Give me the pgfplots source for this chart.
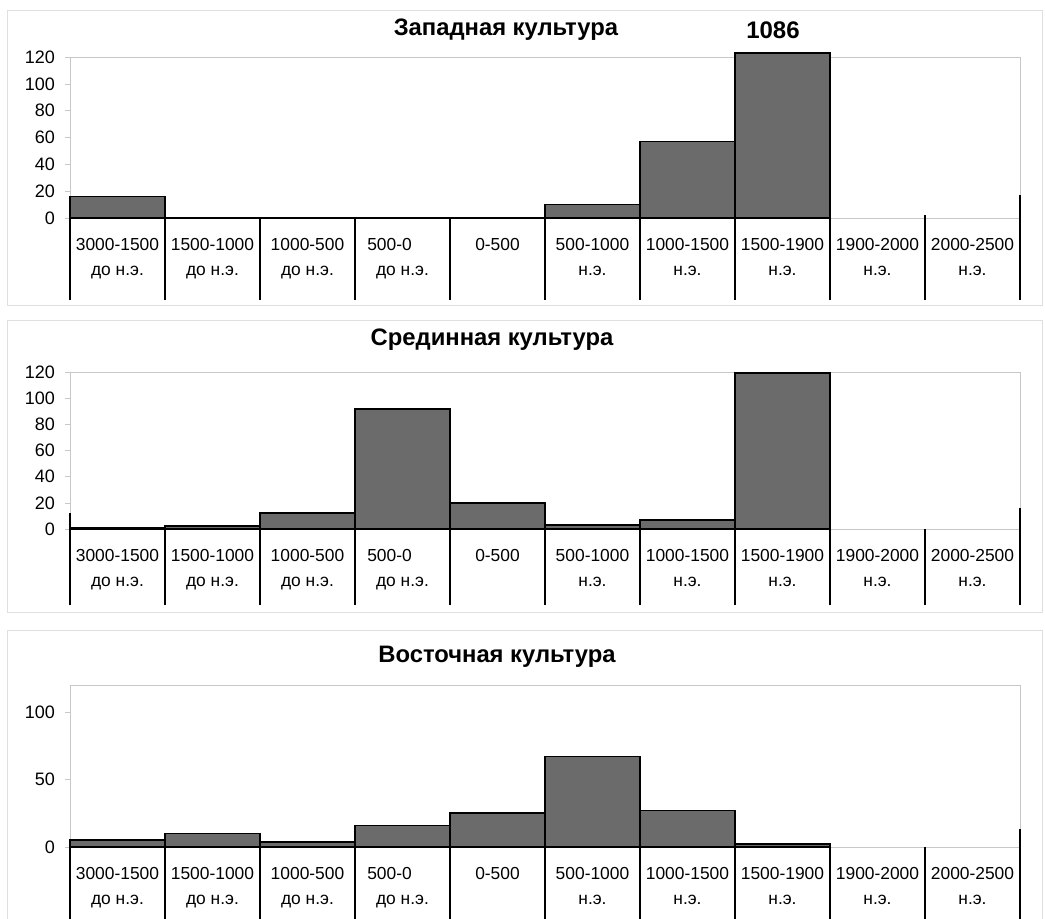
\documentclass[border=0pt]{standalone}
\usepackage{fontspec}
\setmainfont{Liberation Sans}
\usepackage{pgfplots}
\pgfplotsset{compat=1.18}

\definecolor{barfill}{gray}{0.42}
\definecolor{faint}{gray}{0.78}

\pgfplotsset{
  panel/.style={
    scale only axis, width=475pt,
    xmin=0, xmax=10, ymin=0, ymax=120,
    clip=false,
    axis line style={faint},
    xtick={0.5,1.5,...,9.5},
    xticklabels={{3000-1500\\до н.э.},{1500-1000\\до н.э.},{1000-500\\до н.э.},{500-0\hspace*{13pt}\\до н.э.},{0-500\\\phantom{н}},{500-1000\\н.э.},{1000-1500\\н.э.},{1500-1900\\н.э.},{1900-2000\\н.э.},{2000-2500\\н.э.}},
    x tick style={draw=none},
    y tick style={faint},
    xtick pos=lower, ytick pos=left,
    tick align=outside, major tick length=2.5pt,
    xticklabel style={align=center, font=\fontsize{8.7}{12.5}\selectfont, yshift=-4pt, inner xsep=0pt},
    yticklabel style={font=\fontsize{9}{10}\selectfont, xshift=-1.5pt},
    /pgf/number format/assume math mode=true,
  },
  bars/.style={ybar interval, fill=barfill, draw=black, line width=0.9pt},
}

\begin{document}
\begin{tikzpicture}
\useasboundingbox (0,0) rectangle (522.5pt,-459.5pt);
\draw[gray!25] (3.5pt,-5pt) rectangle (521pt,-152.5pt);
\draw[gray!25] (3.5pt,-160pt) rectangle (521pt,-306pt);
\draw[gray!25] (3.5pt,-315pt) rectangle (521pt,-465pt);

% Западная культура
\begin{axis}[panel, at={(35pt,-109pt)}, anchor=south west, height=80.5pt,
  ytick={0,20,...,120}]
\addplot[bars] coordinates {(0,16) (1,0) (2,0) (3,0) (4,0) (5,10) (6,57) (7,123) (8,0)};
\pgfplotsinvokeforeach{0,...,10}{\draw[black, line width=0.8pt] (axis cs:#1,0) -- ++(0,-41pt);}
\draw[black, line width=0.8pt] (axis cs:10,0) -- (axis cs:10,17);
\draw[black, line width=0.8pt] (axis cs:9,0) -- (axis cs:9,2);
\end{axis}

% Срединная культура
\begin{axis}[panel, at={(35pt,-264.5pt)}, anchor=south west, height=78.5pt,
  ytick={0,20,...,120}]
\addplot[bars] coordinates {(0,1) (1,2) (2,12) (3,92) (4,20) (5,3) (6,7) (7,119) (8,0)};
\pgfplotsinvokeforeach{0,...,10}{\draw[black, line width=0.8pt] (axis cs:#1,0) -- ++(0,-38pt);}
\draw[black, line width=0.8pt] (axis cs:10,0) -- (axis cs:10,16);
\draw[black, line width=0.8pt] (axis cs:0,0) -- (axis cs:0,12);
\end{axis}

% Восточная культура
\begin{axis}[panel, at={(35pt,-423.5pt)}, anchor=south west, height=81pt,
  ytick={0,50,100}]
\addplot[bars] coordinates {(0,5) (1,10) (2,4) (3,16) (4,25) (5,67) (6,27) (7,2) (8,0)};
\pgfplotsinvokeforeach{0,...,10}{\draw[black, line width=0.8pt] (axis cs:#1,0) -- ++(0,-38pt);}
\draw[black, line width=0.8pt] (axis cs:10,0) -- (axis cs:10,13);
\end{axis}

\node[font=\bfseries\fontsize{11.9}{14}\selectfont] at (253pt,-15pt) {Западная культура};
\node[font=\bfseries\fontsize{12}{14}\selectfont] at (386.5pt,-15pt) {1086};
\node[font=\bfseries\fontsize{11.9}{14}\selectfont] at (246pt,-170pt) {Срединная культура};
\node[font=\bfseries\fontsize{11.9}{14}\selectfont] at (248.5pt,-328.5pt) {Восточная культура};
\end{tikzpicture}
\end{document}
